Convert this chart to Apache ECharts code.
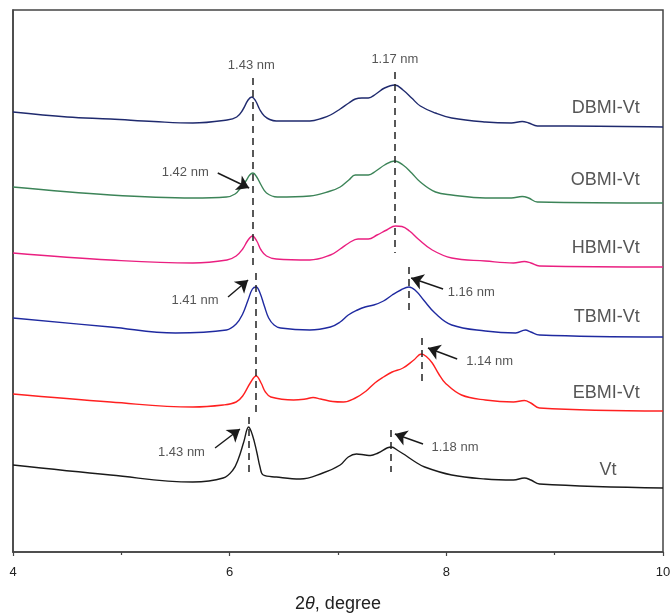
<!DOCTYPE html>
<html>
<head>
<meta charset="utf-8">
<script src="https://cdn.jsdelivr.net/npm/echarts@6/dist/echarts.min.js"></script>
<style>
  html, body { margin: 0; padding: 0; background: #fff; }
  #chart { width: 670px; height: 614px; }
</style>
</head>
<body>
<div id="chart"></div>
<script>
// XRD patterns (2θ, stacked intensity in a.u.)
const sampleNames = ['DBMI-Vt', 'OBMI-Vt', 'HBMI-Vt', 'TBMI-Vt', 'EBMI-Vt', 'Vt'];
const sampleColors = ['#1f2a6e', '#3c8458', '#ea1f80', '#1f2aa0', '#ff2020', '#1a1a1a'];

const dbmiVt = [[4.0,440],[4.5,435],[4.9,433],[5.3,430.5],[5.66,429],[5.975,432],[6.065,435],[6.12,442],[6.17,452],[6.205,455],[6.24,451],[6.28,442],[6.32,436],[6.37,432.5],[6.43,431],[6.74,431],[6.86,434],[6.93,437],[7.02,443],[7.1,449],[7.16,453],[7.22,454],[7.28,454],[7.35,458],[7.43,464],[7.525,467],[7.6,462],[7.68,454],[7.76,446],[7.90,439],[8.05,434],[8.36,430],[8.6,429],[8.7,430.5],[8.76,429],[8.84,426],[9.12,426],[10.0,425]];
const obmiVt = [[4.0,365],[4.9,357],[5.66,354],[5.97,355],[6.05,358],[6.1,364],[6.15,371],[6.185,377],[6.215,379],[6.25,375],[6.29,367],[6.34,359],[6.44,355],[6.74,356],[6.93,361],[7.02,365],[7.1,372],[7.16,377],[7.28,377],[7.35,381],[7.43,387],[7.52,391],[7.6,387],[7.68,379],[7.76,370],[7.90,360],[8.05,357],[8.36,354],[8.6,354],[8.7,355.5],[8.76,354],[8.84,350],[10.0,349]];
const hbmiVt = [[4.0,299],[4.9,292],[5.66,289],[5.975,292],[6.06,296],[6.12,303],[6.17,312],[6.21,316],[6.25,311],[6.29,302],[6.34,296],[6.43,293],[6.74,292],[6.93,297],[7.02,303],[7.1,309],[7.185,313],[7.28,313],[7.36,317],[7.45,322],[7.53,326],[7.59,325.5],[7.66,321],[7.74,313],[7.87,302],[8.05,294],[8.36,291],[8.62,289],[8.72,290.5],[8.78,289],[8.86,286],[10.0,285]];
const tbmiVt = [[4.0,234],[4.9,225],[5.5,219],[5.97,222],[6.06,228],[6.12,238],[6.17,252],[6.21,263],[6.245,265],[6.28,259],[6.32,246],[6.36,234],[6.41,227],[6.47,224],[6.74,222],[6.93,225],[7.02,230],[7.095,237],[7.18,242],[7.25,245],[7.33,247],[7.42,251],[7.5,257],[7.58,262],[7.655,265],[7.72,261],[7.79,252],[7.895,239],[8.05,227],[8.36,221],[8.64,219],[8.73,222],[8.78,220],[8.86,217],[10.0,215]];
const ebmiVt = [[4.0,158],[4.9,150],[5.66,145],[5.94,147],[6.06,150],[6.12,156],[6.19,169],[6.245,176],[6.29,169],[6.33,160],[6.38,155],[6.59,152],[6.7,153],[6.77,154.5],[6.84,153],[6.95,150.5],[7.05,150],[7.16,154],[7.26,161],[7.34,169],[7.42,175],[7.50,180],[7.6,184],[7.7,192],[7.77,198],[7.82,195],[7.87,189],[7.93,178],[7.99,169],[8.14,157],[8.36,152],[8.62,150],[8.72,151.5],[8.78,149],[8.86,144],[10.0,141]];
const vt = [[4.0,87],[4.9,77],[5.66,70],[5.94,74],[6.03,82],[6.08,93],[6.13,110],[6.175,125],[6.21,117],[6.25,100],[6.28,85],[6.31,77],[6.43,75],[6.65,73],[6.86,79],[7.02,87],[7.095,95],[7.17,98],[7.25,97],[7.3,96.5],[7.37,99],[7.49,105],[7.56,101],[7.62,97],[7.70,91],[7.80,85],[8.05,77],[8.36,73],[8.62,72],[8.72,74],[8.78,72],[8.86,68],[10.0,64]];
const patterns = [dbmiVt, obmiVt, hbmiVt, tbmiVt, ebmiVt, vt];

// Sample name labels [2θ, height]
const nameLabelPos = [[9.79,444],[9.79,372],[9.79,304],[9.79,235],[9.79,159],[9.575,82]];

// Peak reference lines: [2θ, from, to]
const peakGuides = [[6.21,474,282],[6.24,279,139],[6.175,135,79],[7.525,480,299],[7.655,285,242],[7.775,214,170],[7.49,122,80]];

// d-spacing annotations
const dLabels = ['1.43 nm','1.17 nm','1.42 nm','1.41 nm','1.16 nm','1.14 nm','1.18 nm','1.43 nm'];
const dLabelPos = [[6.2,487],[7.525,493],[5.59,380],[5.68,252],[8.23,260],[8.40,191],[8.08,105],[5.555,100]];
// Arrows: [x1, y1, x2, y2] (tail -> head)
const dArrows = [[5.89,379,6.18,364],[5.985,255,6.17,272],[7.97,263,7.675,274],[8.10,193,7.83,204],[7.785,108,7.525,118],[5.865,104,6.095,123]];

const xTicks = [4, 6, 8, 10];

const FONT = 'Liberation Sans, Arial, Helvetica, sans-serif';
const chart = echarts.init(document.getElementById('chart'), null, { renderer: 'canvas' });

const series = patterns.map((d, i) => ({
  name: sampleNames[i],
  type: 'line',
  data: d,
  showSymbol: false,
  smooth: 0.4,
  silent: true,
  lineStyle: { color: sampleColors[i], width: 1.4 },
  z: 3
}));

series.push({
  type: 'scatter',
  data: nameLabelPos.map((p, i) => ({ value: p, name: sampleNames[i] })),
  symbolSize: 1,
  itemStyle: { color: 'transparent' },
  silent: true,
  label: {
    show: true, position: 'left', distance: 0,
    formatter: p => p.name,
    color: '#2a2a2a', fontSize: 18, fontFamily: FONT
  },
  z: 5
});

series.push({
  type: 'scatter',
  data: dLabelPos.map((p, i) => ({ value: p, name: dLabels[i] })),
  symbolSize: 1,
  itemStyle: { color: 'transparent' },
  silent: true,
  label: {
    show: true, position: 'inside',
    formatter: p => p.name,
    color: '#2a2a2a', fontSize: 13, fontFamily: FONT
  },
  z: 5
});

series.push({
  type: 'line',
  data: [],
  silent: true,
  markLine: {
    silent: true,
    symbol: 'none',
    label: { show: false },
    lineStyle: { color: '#222', width: 1.5, type: [7, 5] },
    data: peakGuides.map(g => [{ coord: [g[0], g[1]] }, { coord: [g[0], g[2]] }])
  }
});

series.push({
  type: 'line',
  data: [],
  silent: true,
  markLine: {
    silent: true,
    symbol: ['none', 'arrow'],
    symbolSize: 12,
    label: { show: false },
    lineStyle: { color: '#1a1a1a', width: 1.4, type: 'solid' },
    itemStyle: { color: '#1a1a1a' },
    data: dArrows.map(a => [
      { coord: [a[0], a[1]], symbol: 'none' },
      { coord: [a[2], a[3]], symbol: 'arrow', symbolSize: 12 }
    ])
  }
});

chart.setOption({
  animation: false,
  backgroundColor: '#fff',
  grid: {
    left: 13, right: 7, top: 10, bottom: 62,
    containLabel: false,
    outerBoundsMode: 'none',
    show: true, borderColor: '#444', borderWidth: 1.5, backgroundColor: 'transparent'
  },
  xAxis: {
    type: 'value',
    min: xTicks[0], max: xTicks[xTicks.length - 1], interval: 2,
    name: '2{i|θ}, degree',
    nameLocation: 'middle',
    nameGap: 43,
    nameTextStyle: {
      fontSize: 18, color: '#222', fontFamily: FONT,
      rich: { i: { fontStyle: 'italic', fontSize: 18, color: '#222', fontFamily: FONT } }
    },
    axisLine: { show: true, lineStyle: { color: '#444', width: 1.5 } },
    axisTick: { show: true, length: 4, lineStyle: { color: '#444', width: 1.2 } },
    minorTick: { show: true, splitNumber: 2, length: 3, lineStyle: { color: '#444', width: 1.2 } },
    axisLabel: { fontSize: 13, color: '#222', fontFamily: FONT, margin: 14 },
    splitLine: { show: false }
  },
  yAxis: {
    type: 'value', min: 0, max: 542,
    axisLine: { show: true, lineStyle: { color: '#444', width: 1.5 } },
    axisTick: { show: false },
    axisLabel: { show: false },
    splitLine: { show: false }
  },
  series: series
});
</script>
</body>
</html>
